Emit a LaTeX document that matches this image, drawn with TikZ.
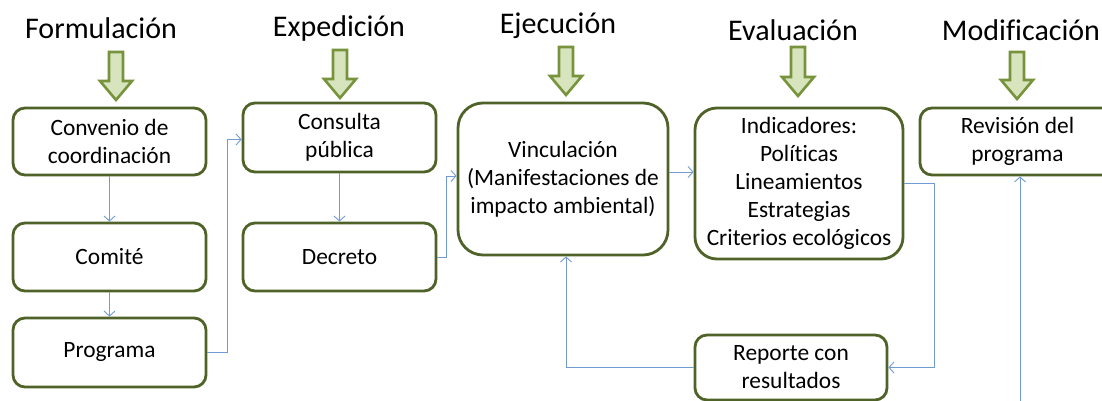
\documentclass[tikz,border=0pt]{standalone}
\usepackage{fontspec}
\setmainfont{Carlito}[Ligatures=CommonOff]
\usetikzlibrary{arrows.meta,calc}
\definecolor{boxgreen}{HTML}{4F6228}
\definecolor{arrgreen}{HTML}{77933C}
\definecolor{arrfill}{HTML}{D7E4BD}
\definecolor{connblue}{HTML}{729BD3}
\newcommand\gblockarrow[3]{% center x, top y, tip y
  \draw[arrgreen, line width=2.6pt, fill=arrfill, line join=miter]
    (#1-7,#2) -- (#1+7,#2) -- (#1+7,#3-19) -- (#1+16,#3-19) -- (#1,#3)
    -- (#1-16,#3-19) -- (#1-7,#3-19) -- cycle;}
\tikzset{
  box/.style={draw=boxgreen, line width=2.8pt, rounded corners=12pt, fill=white,
    align=center, inner sep=0pt, font=\fontsize{23.4}{28}\selectfont},
  head/.style={font=\fontsize{30}{34}\selectfont, inner sep=0pt},
  conn/.style={draw=connblue, line width=0.9pt, -{Straight Barb[length=5pt,width=11pt]}}
}
\begin{document}
\begin{tikzpicture}[x=1pt,y=-1pt]
\useasboundingbox (0,0) rectangle (1102,401);
\clip (0,0) rectangle (1102,401);
\fill[white] (0,0) rectangle (1102,401);
% headings
\node[head] (hform) at (101,28) {Formulación};
\node[head] (hexp) at (339,29) {Expedición};
\node[head] (heje) at (558,26) {Ejecución};
\node[head] (heva) at (793,30) {Evaluación};
\node[head] (hmod) at (1021,30) {Modificación};
% block arrows
\gblockarrow{116}{52}{100}
\gblockarrow{340}{50}{98}
\gblockarrow{566}{47}{95}
\gblockarrow{798}{47}{96}
\gblockarrow{1017}{52}{99}
% boxes
\node[box, minimum width=193pt, minimum height=67pt] (conv) at (109.5,141.5) {Convenio de\\coordinación};
\node[box, minimum width=193pt, minimum height=68pt] (comite) at (109.5,257) {Comité};
\node[box, minimum width=193pt, minimum height=69pt] (prog) at (109.5,352.5) {Programa};
\node[box, minimum width=193pt, minimum height=69pt] (cons) at (339.5,137.5) {Consulta\\pública};
\node[box, minimum width=193pt, minimum height=68pt] (dec) at (339.5,257) {Decreto};
\node[box, rounded corners=25pt, minimum width=210pt, minimum height=152pt] (vinc) at (563,179) {Vinculación\\(Manifestaciones de\\impacto ambiental)};
\node[box, rounded corners=22pt, minimum width=208pt, minimum height=151pt] (ind) at (799,183.5) {Indicadores:\\Políticas\\Lineamientos\\Estrategias\\Criterios ecológicos};
\node[box, minimum width=192pt, minimum height=65pt] (rep) at (791,367.5) {Reporte con\\resultados};
\node[box, minimum width=195pt, minimum height=67pt] (rev) at (1017.5,141.5) {Revisión del\\programa};
% connectors
\draw[conn] (conv.south) -- (comite.north);
\draw[conn] (comite.south) -- (prog.north);
\draw[conn] (prog.east) -- ++(20,0) |- ([yshift=-2pt]cons.west);
\draw[conn] (cons.south) -- (dec.north);
\draw[conn] (dec.east) -- ++(9,0) |- ([yshift=3pt]vinc.west);
\draw[conn] ([yshift=7pt]vinc.east) -- ([yshift=7pt]vinc.east -| ind.west);
\draw[conn] (ind.east) -- ++(30,0) |- (rep.east);
\draw[conn] (rep.west) -| ([xshift=3pt]vinc.south);
\coordinate (rb) at (1020,401);
\draw[conn] (rb) -- (rb |- rev.south);
\end{tikzpicture}
\end{document}
